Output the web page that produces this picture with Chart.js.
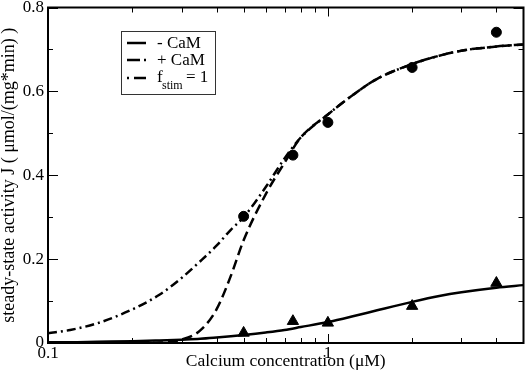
<!DOCTYPE html>
<html>
<head>
<meta charset="utf-8">
<script src="https://cdn.jsdelivr.net/npm/chart.js@4/dist/chart.umd.min.js"></script>
<style>
    body { margin: 0; background: #fff; }
    #wrap { width: 531px; height: 382px; }
</style>
</head>
<body>
<div id="wrap"><canvas id="chart" width="531" height="382"></canvas></div>
<script>
// Curve sample points (calcium concentration, µM)
const xCurve = [0.1, 0.12, 0.15, 0.2, 0.25, 0.3, 0.35, 0.4, 0.45, 0.5, 0.6, 0.7, 0.8, 1, 1.25, 1.5, 2, 2.5, 3, 4, 5];
// - CaM (solid)
const minusCaM = [0.002, 0.002, 0.003, 0.004, 0.006, 0.008, 0.010, 0.013, 0.016, 0.019, 0.025, 0.031, 0.038, 0.050, 0.065, 0.078, 0.098, 0.112, 0.121, 0.132, 0.138];
// + CaM (dashed)
const plusCaM = [0, 0, 0, 0, 0.001, 0.008, 0.03, 0.08, 0.16, 0.245, 0.355, 0.43, 0.49, 0.545, 0.595, 0.63, 0.665, 0.685, 0.697, 0.707, 0.712];
// f_stim = 1 (dash-dot)
const fstim1 = [0.023, 0.031, 0.047, 0.08, 0.115, 0.155, 0.195, 0.232, 0.27, 0.30, 0.372, 0.44, 0.49, 0.545, 0.595, 0.63, 0.665, 0.685, 0.697, 0.707, 0.712];

// Measured points
const xMeas = [0.5, 0.75, 1, 2, 4];
const measPlus = [0.302, 0.448, 0.526, 0.657, 0.741];
const measMinus = [0.024, 0.052, 0.048, 0.088, 0.143];

// Axis ticks
const xMajor = [0.1, 1];
const xMinor = [0.2, 0.3, 0.4, 0.5, 0.6, 0.7, 0.8, 0.9, 2, 3, 4];
const yMajor = [0, 0.2, 0.4, 0.6, 0.8];
const yMinor = [0.1, 0.3, 0.5, 0.7];

const SERIF = '"Liberation Serif", "DejaVu Serif", serif';

function pts(xs, ys) {
    return xs.map((x, i) => ({ x: x, y: ys[i] }));
}

function curve(label, data, dash) {
    return {
        label: label,
        data: pts(xCurve, data),
        showLine: true,
        borderColor: '#000',
        borderWidth: 2.5,
        borderDash: dash,
        pointRadius: 0,
        cubicInterpolationMode: 'monotone',
        fill: false
    };
}

// Ticks pointing inward + frame + legend
const framePlugin = {
    id: 'frame',
    afterDraw(chart) {
        const ctx = chart.ctx;
        const a = chart.chartArea;
        const xs = chart.scales.x;
        const ys = chart.scales.y;
        ctx.save();
        ctx.strokeStyle = '#000';
        ctx.lineWidth = 1;

        // x ticks (bottom + top)
        const xt = xMajor.map(v => [v, 9]).concat(xMinor.map(v => [v, 5]));
        xt.forEach(([v, len]) => {
            const px = Math.round(xs.getPixelForValue(v)) + 0.5;
            ctx.beginPath();
            ctx.moveTo(px, a.bottom); ctx.lineTo(px, a.bottom - len);
            ctx.moveTo(px, a.top); ctx.lineTo(px, a.top + len);
            ctx.stroke();
        });
        // y ticks (left + right)
        const yt = yMajor.map(v => [v, 10]).concat(yMinor.map(v => [v, 5]));
        yt.forEach(([v, len]) => {
            const py = Math.round(ys.getPixelForValue(v)) + 0.5;
            ctx.beginPath();
            ctx.moveTo(a.left, py); ctx.lineTo(a.left + len, py);
            ctx.moveTo(a.right, py); ctx.lineTo(a.right - len, py);
            ctx.stroke();
        });

        // frame
        ctx.lineWidth = 2;
        ctx.strokeRect(a.left, a.top, a.right - a.left, a.bottom - a.top);

        // legend box
        const bx = 121, by = 31, bw = 94, bh = 63;
        ctx.lineWidth = 1;
        ctx.strokeStyle = '#333';
        ctx.strokeRect(bx + 0.5, by + 0.5, bw, bh);

        ctx.strokeStyle = '#000';
        ctx.lineWidth = 2.5;
        const rows = [
            { y: 43, dash: [] },
            { y: 60, dash: [13, 4, 2, 8] },
            { y: 78, dash: [2, 5, 13, 8] }
        ];
        rows.forEach(r => {
            ctx.setLineDash(r.dash);
            ctx.beginPath();
            ctx.moveTo(127, r.y); ctx.lineTo(146, r.y);
            ctx.stroke();
        });
        ctx.setLineDash([]);

        ctx.fillStyle = '#000';
        ctx.textBaseline = 'alphabetic';
        ctx.textAlign = 'left';
        ctx.font = '17px ' + SERIF;
        ctx.fillText('- CaM', 157, 48);
        ctx.fillText('+ CaM', 157, 65);
        ctx.fillText('f', 157, 82);
        ctx.font = '12px ' + SERIF;
        ctx.fillText('stim', 162, 89);
        ctx.font = '17px ' + SERIF;
        ctx.fillText('= 1', 186, 82);
        ctx.restore();
    }
};

const ctx = document.getElementById('chart').getContext('2d');
new Chart(ctx, {
    type: 'scatter',
    data: {
        datasets: [
            curve('- CaM', minusCaM, []),
            curve('+ CaM', plusCaM, [10, 5]),
            curve('fstim = 1', fstim1, [9, 4, 2, 4]),
            {
                label: '+ CaM data',
                data: pts(xMeas, measPlus),
                pointStyle: 'circle',
                pointRadius: 5,
                backgroundColor: '#000',
                borderColor: '#000',
                showLine: false
            },
            {
                label: '- CaM data',
                data: pts(xMeas, measMinus),
                pointStyle: 'triangle',
                pointRadius: 6.5,
                backgroundColor: '#000',
                borderColor: '#000',
                showLine: false
            }
        ]
    },
    options: {
        responsive: false,
        animation: false,
        layout: { padding: { top: 7, right: 3, left: 0, bottom: 0 } },
        plugins: {
            legend: { display: false },
            tooltip: { enabled: false }
        },
        scales: {
            x: {
                type: 'logarithmic',
                min: 0.1,
                max: 5,
                afterFit: s => { s.height = 39; s.paddingLeft = 0; s.paddingRight = 0; },
                afterBuildTicks: s => { s.ticks = xMajor.map(v => ({ value: v })); },
                grid: { display: false, drawTicks: false },
                border: { display: false },
                ticks: {
                    color: '#000',
                    font: { family: SERIF, size: 17 },
                    padding: 0,
                    maxRotation: 0,
                    autoSkip: false,
                    callback: v => String(v)
                },
                title: {
                    display: true,
                    text: 'Calcium concentration (μM)',
                    color: '#000',
                    font: { family: SERIF, size: 17.5 },
                    padding: { top: 0, bottom: 10 }
                }
            },
            y: {
                min: 0,
                max: 0.8,
                afterFit: s => { s.width = 48; s.paddingTop = 0; s.paddingBottom = 0; },
                afterBuildTicks: s => { s.ticks = yMajor.map(v => ({ value: v })); },
                grid: { display: false, drawTicks: false },
                border: { display: false },
                ticks: {
                    color: '#000',
                    font: { family: SERIF, size: 17 },
                    padding: 4,
                    callback: v => String(Math.round(v * 10) / 10)
                },
                title: {
                    display: true,
                    text: 'steady-state activity J ( μmol/(mg*min) )',
                    color: '#000',
                    font: { family: SERIF, size: 18 },
                    padding: { top: -2, bottom: 0 }
                }
            }
        }
    },
    plugins: [framePlugin]
});
</script>
</body>
</html>
